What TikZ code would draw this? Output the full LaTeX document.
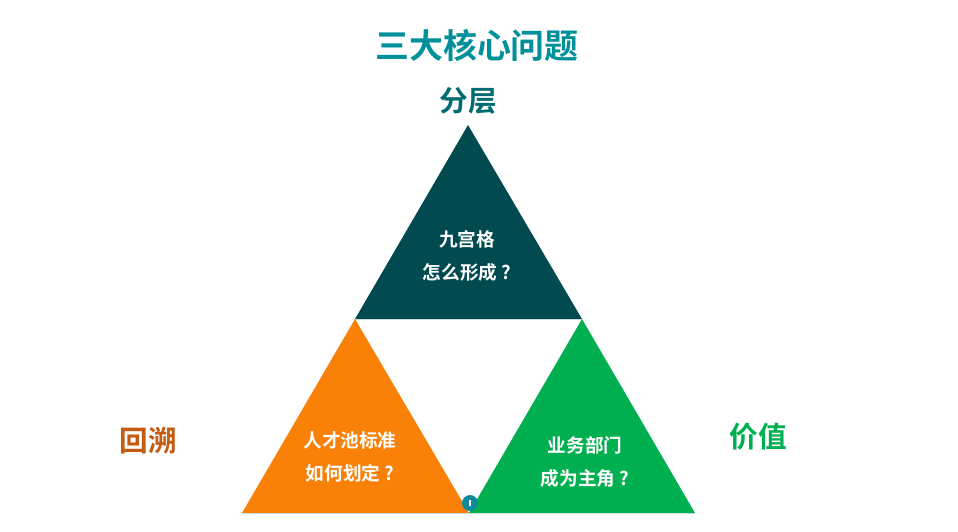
\documentclass[tikz,border=0pt]{standalone}
\usepackage{fontspec}
\newfontfamily\cjk{Noto Sans CJK SC}[BoldFont={* Bold}]
\usepackage{tikz}
\usetikzlibrary{positioning,calc}
\definecolor{titleteal}{HTML}{00909A}
\definecolor{layerteal}{HTML}{006B70}
\definecolor{darkteal}{HTML}{004A50}
\definecolor{nineorange}{HTML}{F98107}
\definecolor{valuegreen}{HTML}{00B050}
\definecolor{backbrown}{HTML}{C55A11}
\definecolor{dotteal}{HTML}{0E8A9A}

\begin{document}
\begin{tikzpicture}[
  x=0.0264cm, y=-0.0264cm,
  tri/.style={draw=white!80!darkteal, line width=0.4pt},
  inner/.style={text=white, font=\cjk\bfseries\fontsize{14}{17}\selectfont, align=center},
  side/.style={font=\cjk\bfseries\fontsize{21.5}{25}\selectfont}
]
\path[use as bounding box] (0,0) rectangle (958,531);

% Title
\node[font=\cjk\bfseries\fontsize{25.5}{30}\selectfont, text=titleteal] (title) at (477,45) {三大核心问题};
\node[side, text=layerteal] (layer) at (468,101) {分层};

% Corner points
\coordinate (top) at (468,125);
\coordinate (midL) at (355,319);
\coordinate (midR) at (582,319);
\coordinate (botL) at (242,513);
\coordinate (botM) at (469,513);
\coordinate (botR) at (695,513);

% Triangles
\fill[darkteal] (top) -- (midR) -- (midL) -- cycle;
\draw[tri] (midL) -- (midR);
\fill[nineorange] (midL) -- (botM) -- (botL) -- cycle;
\fill[valuegreen] (midR) -- (botR) -- (botM) -- cycle;
\draw[tri] (botL) -- (botR);

% Texts inside
\node[inner] (grid) at (467,256) {九宫格\\[8pt]怎么形成 ?};
\node[inner] (pool) at (350,457) {人才池标准\\[8pt]如何划定 ?};
\node[inner] (dept) at (585,462) {业务部门\\[8pt]成为主角 ?};

% Side labels
\node[side, text=backbrown] (back) at (148,441) {回溯};
\node[side, text=valuegreen] (value) at (758,437) {价值};

% Small marker
\node[circle, fill=dotteal, inner sep=0pt, minimum size=12pt] (dot) at (470,503) {};
\draw[white, line width=0.8pt] ($(dot.center)+(0,-3)$) -- ($(dot.center)+(0,3)$);
\end{tikzpicture}
\end{document}
